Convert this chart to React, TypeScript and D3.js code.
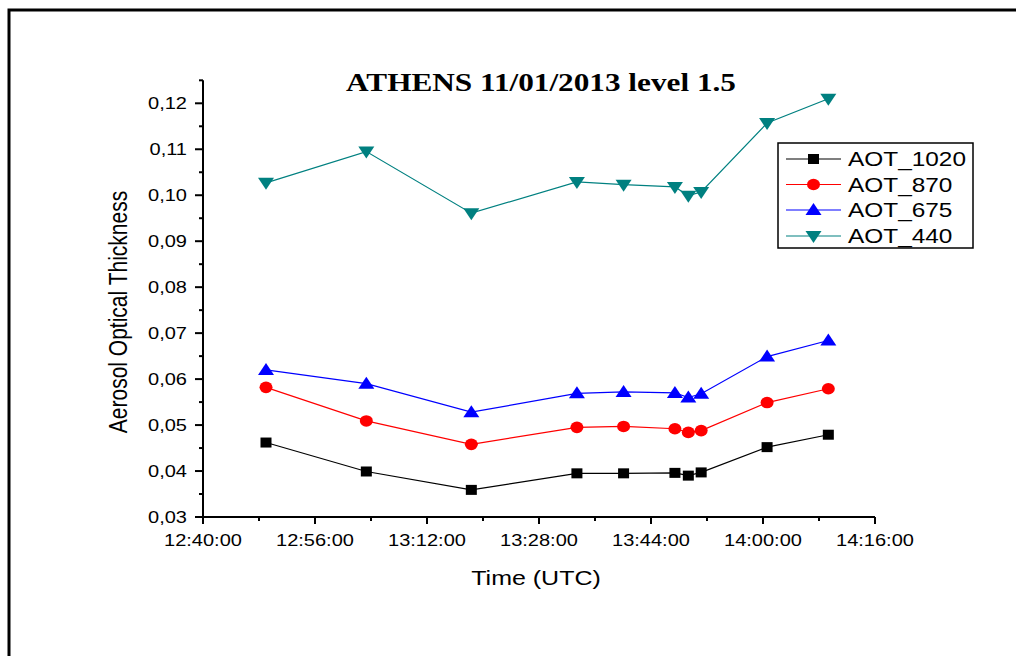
import React from "react";
import * as d3 from "d3";

const times = ["12:49:00", "13:03:20", "13:18:20", "13:33:25", "13:40:05", "13:47:25", "13:49:20", "13:51:10", "14:00:35", "14:09:20"];
const aot1020 = [0.0462, 0.0399, 0.0359, 0.0395, 0.0395, 0.0396, 0.0390, 0.0397, 0.0452, 0.0479];
const aot870 = [0.0582, 0.0509, 0.0458, 0.0495, 0.0497, 0.0492, 0.0484, 0.0488, 0.0549, 0.0579];
const aot675 = [0.0620, 0.0590, 0.0528, 0.0569, 0.0572, 0.0570, 0.0560, 0.0568, 0.0649, 0.0684];
const aot440 = [0.1027, 0.1095, 0.0961, 0.1029, 0.1023, 0.1018, 0.0999, 0.1007, 0.1157, 0.1210];

const xTickLabels = ["12:40:00", "12:56:00", "13:12:00", "13:28:00", "13:44:00", "14:00:00", "14:16:00"];
const yTickValues = [0.03, 0.04, 0.05, 0.06, 0.07, 0.08, 0.09, 0.1, 0.11, 0.12];

const seriesNames = ["AOT_1020", "AOT_870", "AOT_675", "AOT_440"];
const seriesColors = ["#000000", "#ff0000", "#0000ff", "#008080"];
const seriesShapes = ["square", "circle", "triangle", "down"];
const seriesValues = [aot1020, aot870, aot675, aot440];

const parse = d3.timeParse("%H:%M:%S");
const SX = 1.25;

function Marker({ shape, x, y, color }: { shape: string; x: number; y: number; color: string }) {
  if (shape === "square") return <rect x={x - 5.5} y={y - 5} width={11} height={10} fill={color} />;
  if (shape === "circle") return <ellipse cx={x} cy={y} rx={6.5} ry={5.8} fill={color} />;
  if (shape === "triangle")
    return <path d={`M${x},${y - 7} L${x + 8},${y + 5} L${x - 8},${y + 5} Z`} fill={color} />;
  return <path d={`M${x},${y + 7} L${x + 8},${y - 5} L${x - 8},${y - 5} Z`} fill={color} />;
}

function SText({ x, y, anchor, size, children, family, weight, sx = SX }: any) {
  return (
    <text
      transform={`translate(${x},${y}) scale(${sx},1)`}
      textAnchor={anchor || "start"}
      fontFamily={family}
      fontWeight={weight || "normal"}
      fontSize={size}
    >
      {children}
    </text>
  );
}

export default function App() {
  const x0 = 203, x1 = 875, y0 = 517, y1 = 103.3;
  const tStart = parse("12:40:00") as Date;
  const tEnd = parse("14:16:00") as Date;
  const x = d3.scaleTime().domain([tStart, tEnd]).range([x0, x1]);
  const y = d3.scaleLinear().domain([0.03, 0.12]).range([y0, y1]);
  const yTop = y(0.125);
  const xMajor = xTickLabels.map((s) => parse(s) as Date);
  const xMinor = d3.range(0, xMajor.length - 1).map((i) => new Date((xMajor[i].getTime() + xMajor[i + 1].getTime()) / 2));
  const yMinor = d3.range(0.035, 0.126, 0.01);
  const dates = times.map((t) => parse(t) as Date);
  const line = d3.line<[Date, number]>().x((d) => x(d[0])).y((d) => y(d[1]));
  const fmt = (v: number) => v.toFixed(2).replace(".", ",");
  const font = "Arial, 'Liberation Sans', sans-serif";

  const legX = 778, legY = 143, legW = 195, legH = 105;
  const rowY = [159, 184.5, 210, 236];

  return (
    <svg width={1016} height={656} style={{ position: "absolute", left: 0, top: 0, background: "#fff" }}>
      <rect x={0} y={0} width={1016} height={656} fill="#fff" />
      <path d="M9,656 L9,10 L1016,10" fill="none" stroke="#000" strokeWidth={3} />

      <SText x={541} y={91} anchor="middle" family="'Times New Roman', 'Liberation Serif', serif" weight="bold" size={25}>
        ATHENS 11/01/2013 level 1.5
      </SText>

      {/* axes */}
      <line x1={x0} y1={y0} x2={x1} y2={y0} stroke="#000" strokeWidth={2} />
      <line x1={x0} y1={y0 + 1} x2={x0} y2={yTop} stroke="#000" strokeWidth={2} />
      {xMajor.map((d, i) => (
        <g key={"xt" + i}>
          <line x1={x(d)} x2={x(d)} y1={y0} y2={y0 + 7} stroke="#000" strokeWidth={2} />
          <SText x={x(d)} y={546} anchor="middle" family={font} size={16}>
            {xTickLabels[i]}
          </SText>
        </g>
      ))}
      {xMinor.map((d, i) => (
        <line key={"xm" + i} x1={x(d)} x2={x(d)} y1={y0} y2={y0 + 4} stroke="#000" strokeWidth={2} />
      ))}
      {yTickValues.map((v, i) => (
        <g key={"yt" + i}>
          <line x1={x0 - 8} x2={x0} y1={y(v)} y2={y(v)} stroke="#000" strokeWidth={2} />
          <SText x={187} y={y(v) + 6} anchor="end" family={font} size={16}>
            {fmt(v)}
          </SText>
        </g>
      ))}
      {yMinor.map((v, i) => (
        <line key={"ym" + i} x1={x0 - 4} x2={x0} y1={y(v)} y2={y(v)} stroke="#000" strokeWidth={2} />
      ))}

      <SText x={536} y={585} anchor="middle" family={font} size={20}>
        Time (UTC)
      </SText>
      <text transform={`translate(127,312) rotate(-90) scale(1,1.2)`} textAnchor="middle" fontFamily={font} fontSize={21}>
        Aerosol Optical Thickness
      </text>

      {seriesValues.map((vals, si) => {
        const pts = vals.map((v, i) => [dates[i], v] as [Date, number]);
        return (
          <g key={"s" + si}>
            <path d={line(pts) || ""} fill="none" stroke={seriesColors[si]} strokeWidth={1.2} />
            {pts.map((p, i) => (
              <Marker key={i} shape={seriesShapes[si]} x={x(p[0])} y={y(p[1])} color={seriesColors[si]} />
            ))}
          </g>
        );
      })}

      <rect x={legX} y={legY} width={legW} height={legH} fill="#fff" stroke="#000" strokeWidth={1.5} />
      {seriesNames.map((n, i) => (
        <g key={"l" + i}>
          <line x1={786} x2={841} y1={rowY[i]} y2={rowY[i]} stroke={seriesColors[i]} strokeWidth={1.2} />
          <Marker shape={seriesShapes[i]} x={813.5} y={rowY[i]} color={seriesColors[i]} />
          <SText x={848} y={rowY[i] + 7} family={font} size={20} sx={1.22}>
            {n}
          </SText>
        </g>
      ))}
    </svg>
  );
}
